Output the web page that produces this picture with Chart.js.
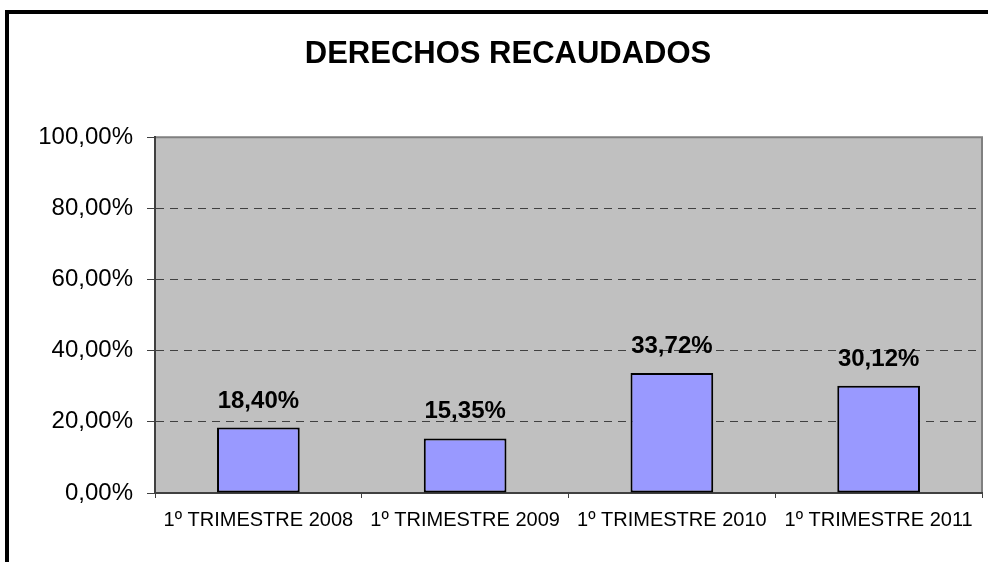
<!DOCTYPE html>
<html>
<head>
<meta charset="utf-8">
<script src="https://cdn.jsdelivr.net/npm/chart.js@4/dist/chart.umd.min.js"></script>
<style>
  body { margin: 0; background: #fff; overflow: hidden; }
  canvas { display: block; }
</style>
</head>
<body>
<canvas id="userChart" width="988" height="562"></canvas>
<script>
    let trimestres = ['1º TRIMESTRE 2008', '1º TRIMESTRE 2009', '1º TRIMESTRE 2010', '1º TRIMESTRE 2011'];
    let derechos = [18.40, 15.35, 33.72, 30.12];
    let yTicks = [0, 20, 40, 60, 80, 100];
    let tituloGrafico = 'DERECHOS RECAUDADOS';

    const fuente = "'Liberation Sans', Arial, sans-serif";
    const pct = v => v.toFixed(2).replace('.', ',') + '%';

    // fondo gris del area, marco y bordes
    const fondo = {
        id: 'fondo',
        beforeDraw(chart) {
            const ctx = chart.ctx;
            const a = chart.chartArea;
            ctx.save();
            ctx.fillStyle = '#fff';
            ctx.fillRect(0, 0, chart.width, chart.height);
            ctx.fillStyle = '#000';
            ctx.fillRect(5, 10, 4, chart.height);
            ctx.fillRect(5, 10, chart.width, 4);
            ctx.fillStyle = '#c0c0c0';
            ctx.fillRect(a.left, a.top, a.right - a.left, a.bottom - a.top);
            ctx.strokeStyle = '#808080';
            ctx.lineWidth = 2;
            ctx.beginPath();
            ctx.moveTo(a.left, a.top);
            ctx.lineTo(a.right, a.top);
            ctx.lineTo(a.right, a.bottom);
            ctx.stroke();
            ctx.restore();
        }
    };

    // etiquetas encima de cada barra
    const etiquetas = {
        id: 'etiquetas',
        afterDatasetsDraw(chart) {
            const ctx = chart.ctx;
            const meta = chart.getDatasetMeta(0);
            ctx.save();
            ctx.font = 'bold 24px ' + fuente;
            ctx.fillStyle = '#000';
            ctx.textAlign = 'center';
            ctx.textBaseline = 'alphabetic';
            meta.data.forEach((bar, i) => {
                ctx.fillText(pct(derechos[i]), bar.x, bar.y - 20);
            });
            ctx.restore();
        }
    };

    let ctx = document.getElementById('userChart').getContext('2d');
    let chart = new Chart(ctx, {
        type: 'bar',
        data: {
            labels: trimestres,
            datasets: [{
                label: 'Derechos recaudados',
                data: derechos,
                backgroundColor: '#9999ff',
                borderColor: '#000',
                borderWidth: 2,
                borderSkipped: false,
                barPercentage: 0.4,
                categoryPercentage: 1
            }]
        },
        options: {
            responsive: false,
            animation: false,
            layout: { padding: { left: 34, right: 6, top: 0, bottom: 0 } },
            plugins: {
                legend: { display: false },
                tooltip: { enabled: false },
                title: {
                    display: true,
                    text: tituloGrafico,
                    color: '#000',
                    font: { family: fuente, size: 31, weight: 'bold' },
                    padding: { top: 36, bottom: 64 }
                }
            },
            scales: {
                x: {
                    afterFit: s => { s.height = 69; },
                    grid: {
                        offset: true,
                        drawOnChartArea: false,
                        drawTicks: true,
                        tickLength: 5,
                        tickColor: '#404040'
                    },
                    border: { color: '#404040', width: 2 },
                    ticks: {
                        color: '#000',
                        font: { family: fuente, size: 20 },
                        maxRotation: 0,
                        autoSkip: false,
                        padding: 10
                    }
                },
                y: {
                    min: 0,
                    max: 100,
                    afterFit: s => { s.width = 121; },
                    afterBuildTicks: s => { s.ticks = yTicks.map(v => ({ value: v })); },
                    grid: {
                        color: c => (c.tick && (c.tick.value === 0 || c.tick.value === 100)) ? 'rgba(0,0,0,0)' : '#404040',
                        lineWidth: 1,
                        tickLength: 8,
                        tickColor: '#404040'
                    },
                    border: { color: '#404040', width: 2, dash: [8, 6] },
                    ticks: {
                        color: '#000',
                        font: { family: fuente, size: 24 },
                        padding: 14,
                        callback: v => pct(v)
                    }
                }
            }
        },
        plugins: [fondo, etiquetas]
    });
</script>
</body>
</html>
